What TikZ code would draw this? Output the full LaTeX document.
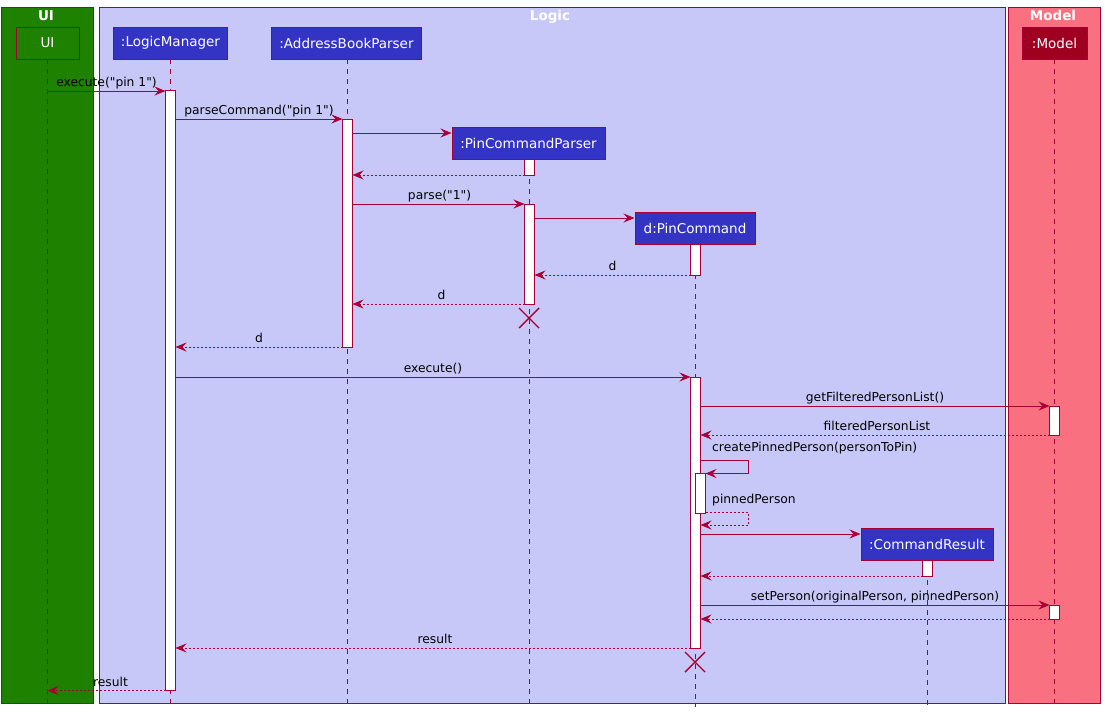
\documentclass[tikz,border=0pt]{standalone}
\usepackage{fontspec}
\setmainfont{DejaVu Sans}[Ligatures=TeXOff]
\usetikzlibrary{arrows.meta}
\newcommand{\dq}{\symbol{34}}
\definecolor{bord}{RGB}{168,0,54}
\definecolor{uigreen}{RGB}{30,130,0}
\definecolor{logicbg}{RGB}{200,200,248}
\definecolor{modelbg}{RGB}{249,113,129}
\definecolor{pblue}{RGB}{51,51,196}
\definecolor{mred}{RGB}{160,0,32}
\tikzset{
  grp/.style={draw=bord, line width=1pt},
  grptitle/.style={text=white, font=\bfseries\fontsize{13.5}{16}\selectfont, inner sep=0, anchor=base},
  part/.style={draw=bord, fill=pblue, text=white, font=\fontsize{13.5}{16}\selectfont, minimum height=32pt, inner sep=0, line width=1pt},
  life/.style={draw=bord, dash pattern=on 5pt off 5pt, line width=0.8pt},
  actbar/.style={draw=bord, fill=white, line width=1pt},
  call/.style={draw=bord, line width=0.8pt, -{Stealth[length=11pt,width=9pt,inset=4pt]}},
  ret/.style={call, dash pattern=on 2pt off 2pt},
  lbl/.style={font=\fontsize{12.3}{14}\selectfont, text=black, inner sep=0, anchor=base, yshift=4.5pt},
  destroy/.style={draw=bord, line width=1.4pt},
}
\begin{document}
\begin{tikzpicture}[x=1pt,y=-1pt]
\useasboundingbox (0,0) rectangle (1105,715);
\fill[white] (0,0) rectangle (1105,715);
% groups
\draw[grp, fill=uigreen] (1.5,7.5) rectangle (93.5,703.5);
\draw[grp, fill=logicbg] (99.5,7.5) rectangle (1005.5,703.5);
\draw[grp, fill=modelbg] (1008.5,7.5) rectangle (1100.5,703.5);
\node[grptitle] (tUI) at (46,20) {UI};
\node[grptitle] (tLogic) at (550,20) {Logic};
\node[grptitle] (tModel) at (1053,20) {Model};
% lifelines
\draw[life] (47.5,59) -- (47.5,707);
\draw[life] (170.5,59) -- (170.5,707);
\draw[life] (347,59) -- (347,707);
\draw[life] (529,159) -- (529,707);
\draw[life] (695,244) -- (695,707);
\draw[life] (927,560) -- (927,707);
\draw[life] (1054.5,59) -- (1054.5,707);
% participants
\node[part, fill=uigreen, minimum width=63pt] (ui) at (47.5,43) {UI};
\node[part, minimum width=114pt] (lm) at (170.5,43) {:LogicManager};
\node[part, minimum width=150pt] (abp) at (346.5,43) {:AddressBookParser};
\node[part, minimum width=153pt] (pcp) at (528.5,143) {:PinCommandParser};
\node[part, minimum width=120pt] (pc) at (695,228) {d:PinCommand};
\node[part, minimum width=132pt] (cr) at (927,544) {:CommandResult};
\node[part, fill=mred, minimum width=65pt] (model) at (1054.5,43) {:Model};
% activation bars
\draw[actbar] (165.5,90.5) rectangle (175.5,690.5);
\draw[actbar] (342.5,119.5) rectangle (352.5,347.5);
\draw[actbar] (524.5,159) rectangle (534.5,175.5);
\draw[actbar] (524.5,204.5) rectangle (534.5,304.5);
\draw[actbar] (690.5,244) rectangle (700.5,275.5);
\draw[actbar] (690.5,377.5) rectangle (700.5,648.5);
\draw[actbar] (695.5,473.5) rectangle (705.5,513.5);
\draw[actbar] (1049.5,406.5) rectangle (1059.5,435.5);
\draw[actbar] (1049.5,605.5) rectangle (1059.5,619.5);
\draw[actbar] (922.5,560) rectangle (932.5,576.5);
% message end points
\coordinate (a1) at (47.5,91);   \coordinate (b1) at (165.5,91);
\coordinate (a2) at (175.5,119); \coordinate (b2) at (342.5,119);
\coordinate (a3) at (352.5,133);   \coordinate (b3) at (pcp.west |- a3);
\coordinate (a4) at (524.5,175);   \coordinate (b4) at (352.5,175);
\coordinate (a5) at (352.5,204);   \coordinate (b5) at (524.5,204);
\coordinate (a6) at (534.5,218);   \coordinate (b6) at (pc.west |- a6);
\coordinate (a7) at (690.5,275);   \coordinate (b7) at (534.5,275);
\coordinate (a8) at (524.5,304);   \coordinate (b8) at (352.5,304);
\coordinate (a9) at (342.5,347);   \coordinate (b9) at (175.5,347);
\coordinate (a10) at (175.5,377); \coordinate (b10) at (690.5,377);
\coordinate (a11) at (700.5,406);  \coordinate (b11) at (1049.5,406);
\coordinate (a12) at (1049.5,435); \coordinate (b12) at (700.5,435);
\coordinate (a13) at (700.5,460);  \coordinate (c13) at (748,460); \coordinate (d13) at (748,473.5); \coordinate (b13) at (705.5,473.5);
\coordinate (a14) at (705.5,512); \coordinate (c14) at (748,512); \coordinate (d14) at (748,525); \coordinate (b14) at (700.5,525);
\coordinate (a15) at (700.5,534);  \coordinate (b15) at (cr.west |- a15);
\coordinate (a16) at (922.5,576);  \coordinate (b16) at (700.5,576);
\coordinate (a17) at (700.5,605);  \coordinate (b17) at (1049.5,605);
\coordinate (a18) at (1049.5,619); \coordinate (b18) at (700.5,619);
\coordinate (a19) at (690.5,648);  \coordinate (b19) at (175.5,648);
\coordinate (a20) at (165.5,690.5); \coordinate (b20) at (47.5,690.5);
% messages
\draw[call] (a1) -- node[lbl] (l1) {execute(\dq pin 1\dq)} (b1);
\draw[call] (a2) -- node[lbl] (l2) {parseCommand(\dq pin 1\dq)} (b2);
\draw[call] (a3) -- (b3);
\draw[ret] (a4) -- (b4);
\draw[call] (a5) -- node[lbl, xshift=1pt] (l5) {parse(\dq 1\dq)} (b5);
\draw[call] (a6) -- (b6);
\draw[ret] (a7) -- node[lbl] (l7) {d} (b7);
\draw[ret] (a8) -- node[lbl, xshift=3pt] (l8) {d} (b8);
\draw[ret] (a9) -- node[lbl] (l9) {d} (b9);
\draw[call] (a10) -- node[lbl] (l10) {execute()} (b10);
\draw[call] (a11) -- node[lbl] (l11) {getFilteredPersonList()} (b11);
\draw[ret] (a12) -- node[lbl, xshift=2pt] (l12) {filteredPersonList} (b12);
\draw[call] (a13) -- (c13) -- (d13) -- (b13);
\node[lbl, anchor=base west] (l13) at (712,455.5) {createPinnedPerson(personToPin)};
\draw[ret] (a14) -- (c14) -- (d14) -- (b14);
\node[lbl, anchor=base west] (l14) at (712,507.5) {pinnedPerson};
\draw[call] (a15) -- (b15);
\draw[ret] (a16) -- (b16);
\draw[call] (a17) -- node[lbl] (l17) {setPerson(originalPerson, pinnedPerson)} (b17);
\draw[ret] (a18) -- (b18);
\draw[ret] (a19) -- node[lbl, xshift=2pt] (l19) {result} (b19);
\draw[ret] (a20) -- node[lbl, xshift=4pt] (l20) {result} (b20);
% destroy marks
\draw[destroy] (519,308) -- (539,328) (539,308) -- (519,328);
\draw[destroy] (685,652) -- (705,672) (705,652) -- (685,672);
\end{tikzpicture}
\end{document}
